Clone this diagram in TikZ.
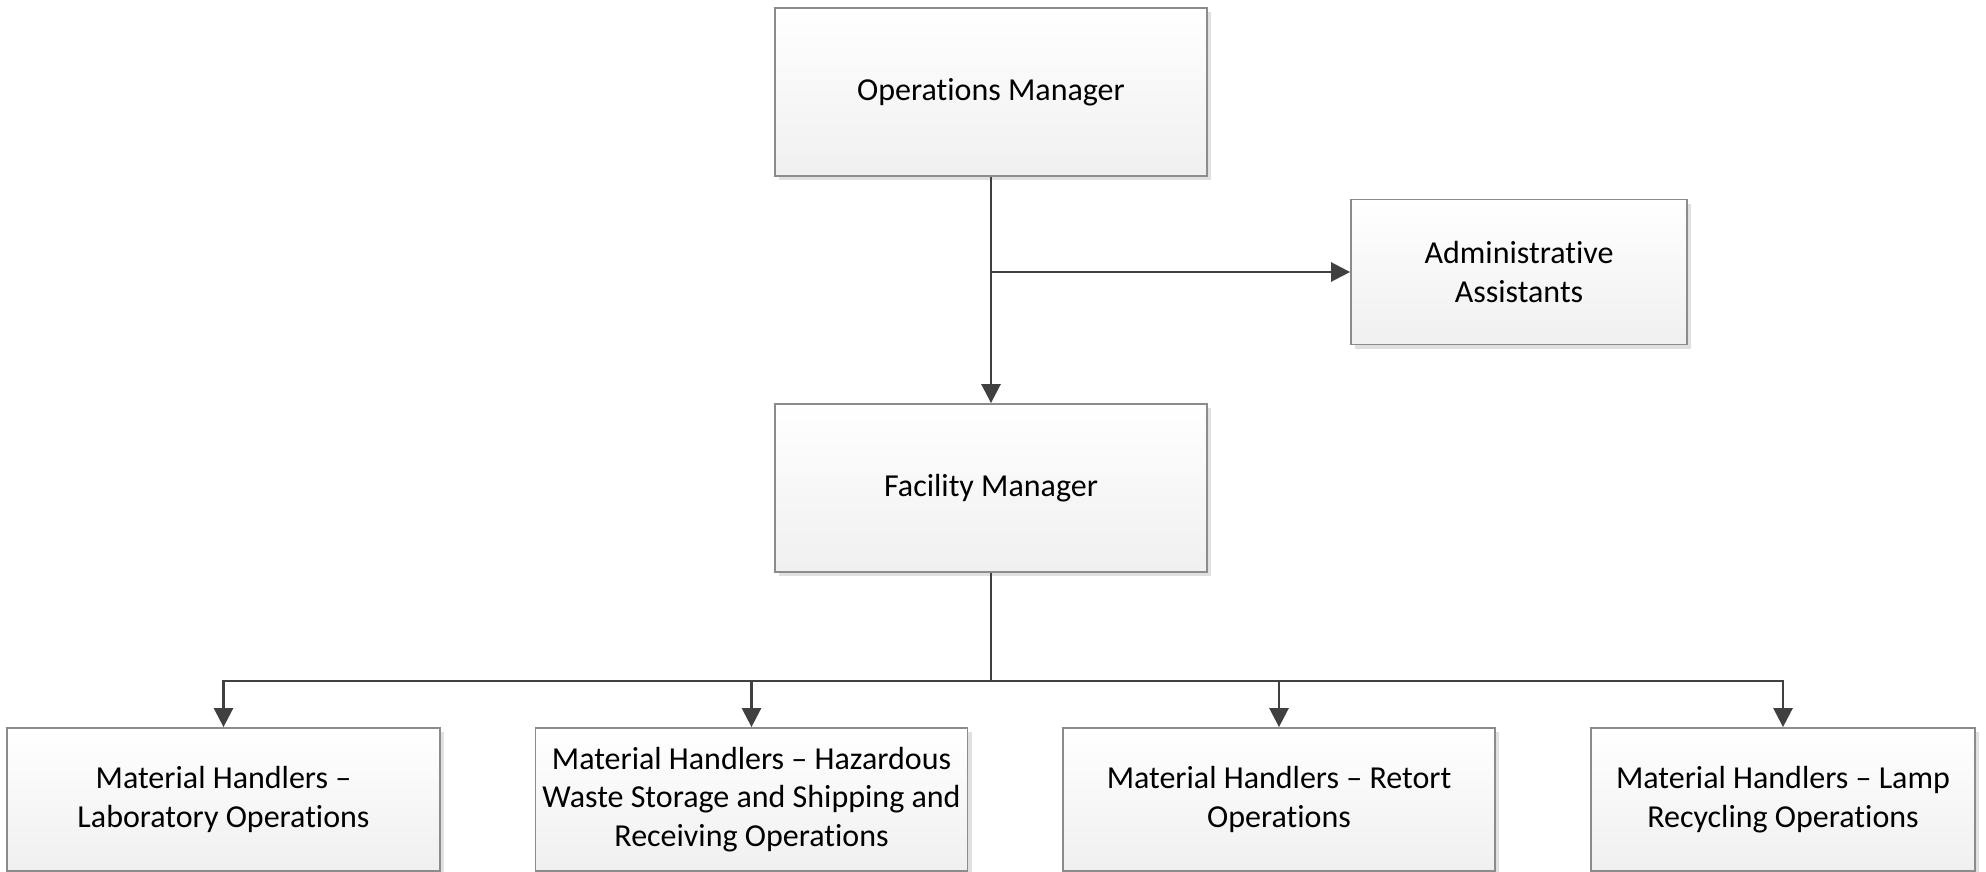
\documentclass[tikz,border=0pt]{standalone}
\usepackage{fontspec}
\setmainfont{Carlito}[Ligatures=NoCommon]
\usetikzlibrary{arrows.meta,shadows}
\definecolor{boxborder}{HTML}{8C8C8C}
\definecolor{linecol}{HTML}{404040}
\begin{document}
\begin{tikzpicture}[x=1pt,y=-1pt,
  orgbox/.style={draw=boxborder, line width=1.8pt, top color=white, bottom color=black!6,
    drop shadow={shadow xshift=4pt, shadow yshift=-4pt, fill=black!12, opacity=1},
    inner sep=0pt, align=center, font=\fontsize{32}{38.5}\selectfont},
  conn/.style={draw=linecol, line width=2.6pt},
  arr/.style={conn, -{Triangle[length=19pt,width=19pt]}}]
\useasboundingbox (0,0) rectangle (1986,872);
\node[orgbox, minimum width=432pt, minimum height=168pt] (ops) at (991,92) {Operations Manager};
\node[orgbox, minimum width=336pt, minimum height=145pt] (adm) at (1519,272) {Administrative\\Assistants};
\node[orgbox, minimum width=432pt, minimum height=168pt] (fac) at (991,488) {Facility Manager};
\node[orgbox, minimum width=433pt, minimum height=143pt] (b1) at (223.5,799.5) {Material Handlers –\\Laboratory Operations};
\node[orgbox, minimum width=432pt, minimum height=143pt] (b2) at (751.5,799.5) {Material Handlers – Hazardous\\Waste Storage and Shipping and\\Receiving Operations};
\node[orgbox, minimum width=432pt, minimum height=143pt] (b3) at (1279,799.5) {Material Handlers – Retort\\Operations};
\node[orgbox, minimum width=384pt, minimum height=143pt] (b4) at (1783,799.5) {Material Handlers – Lamp\\Recycling Operations};
\coordinate (j1) at (991,272);
\coordinate (bus) at (991,681);
\draw[arr] (ops.south) -- (fac.north);
\draw[arr] (j1) -- (adm.west);
\draw[conn] (fac.south) -- (bus);
\draw[arr] (bus) -| (b1.north);
\draw[arr] (bus) -| (b4.north);
\draw[arr] (b2.north |- bus) -- (b2.north);
\draw[arr] (b3.north |- bus) -- (b3.north);
\end{tikzpicture}
\end{document}
